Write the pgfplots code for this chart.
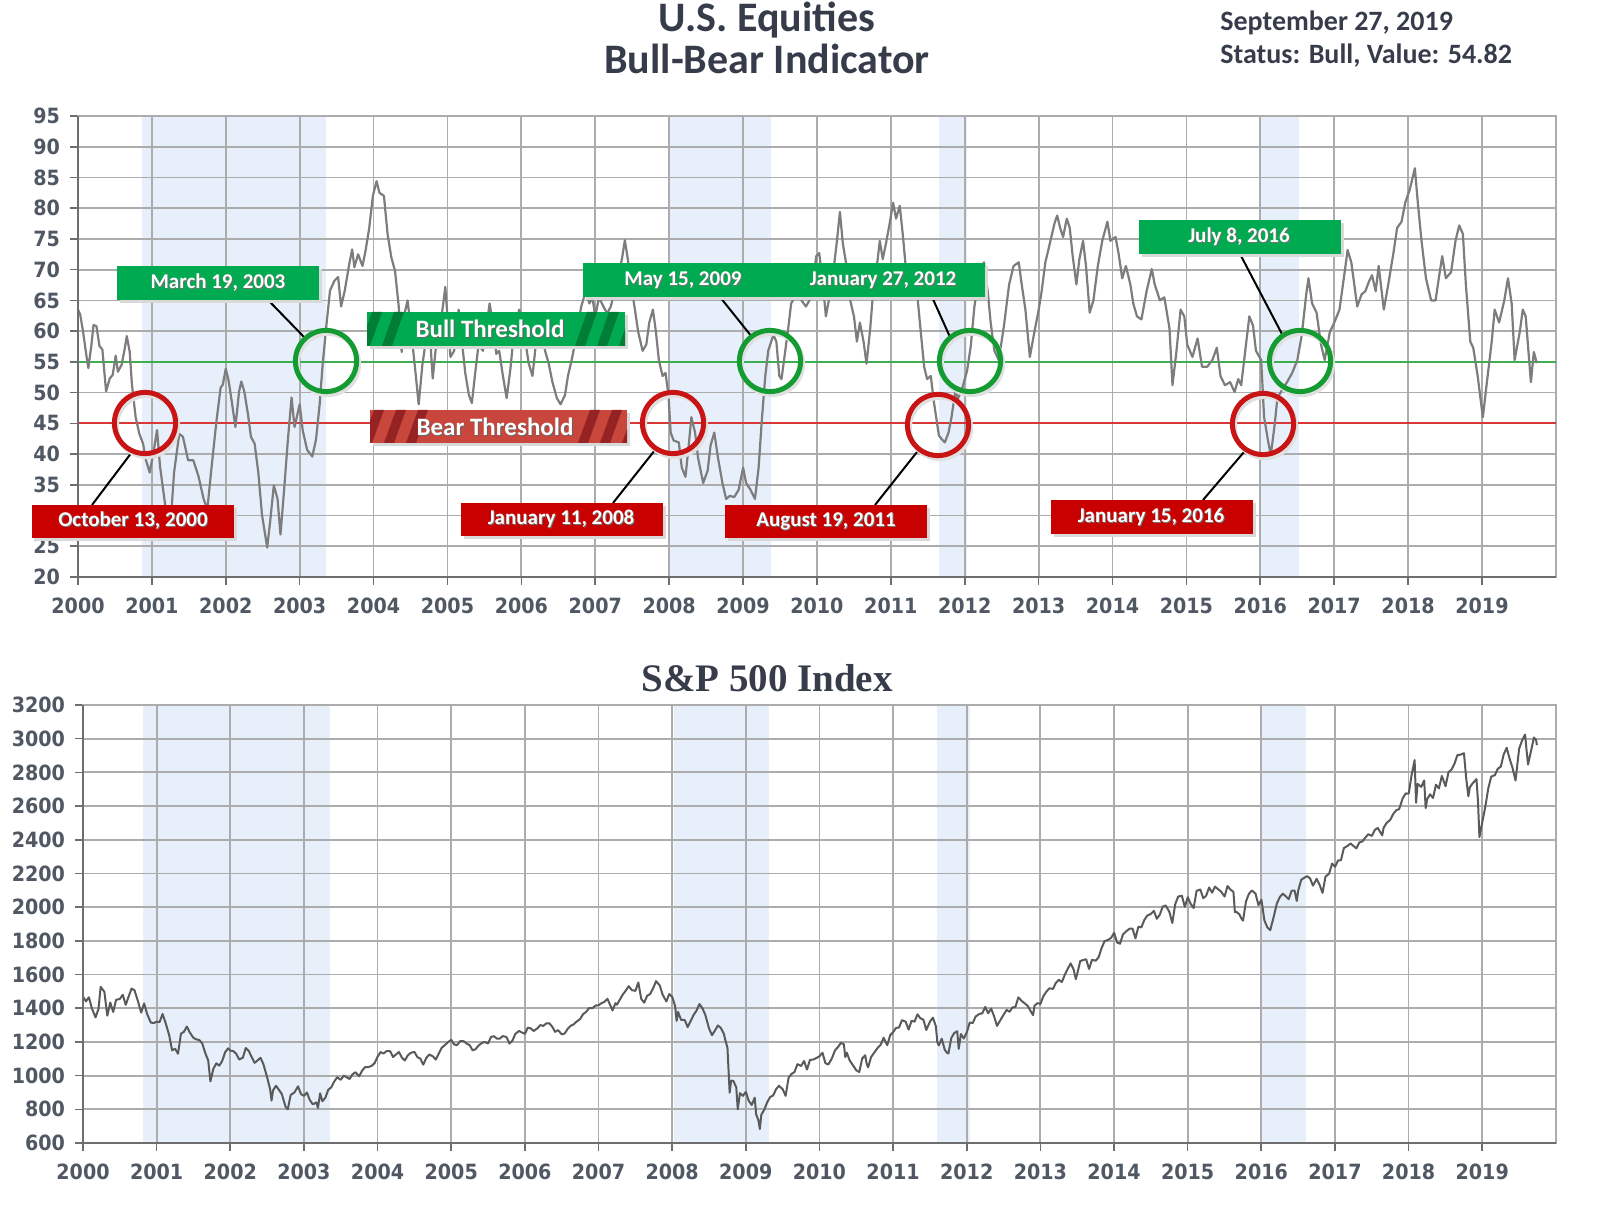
\documentclass[border=0pt]{standalone}
\usepackage{fontspec}
\setmainfont{DejaVu Sans}
\newfontfamily\tickfont{DejaVu Sans}[FakeStretch=0.91]
\newfontfamily\carlito{Carlito}
\newfontfamily\spfont{Liberation Serif}
\usepackage{pgfplots}
\usepackage{pgfplotstable}
\pgfplotsset{compat=1.18}
\definecolor{gridc}{RGB}{172,172,172}
\definecolor{shadec}{RGB}{230,239,250}
\definecolor{linec}{RGB}{125,125,125}
\definecolor{spline}{RGB}{90,90,90}
\definecolor{bullline}{RGB}{60,175,80}
\definecolor{bearline}{RGB}{215,55,55}
\definecolor{boxgreen}{RGB}{0,170,80}
\definecolor{boxred}{RGB}{200,0,0}
\definecolor{bulldark}{RGB}{0,125,55}
\definecolor{bearbase}{RGB}{200,70,60}
\definecolor{beardark}{RGB}{150,35,35}
\definecolor{circgreen}{RGB}{20,155,50}
\definecolor{circred}{RGB}{200,20,20}
\definecolor{tickc}{RGB}{80,88,100}
\definecolor{titlec}{RGB}{55,60,75}
\definecolor{axisdark}{RGB}{110,110,110}

\pgfplotstableread{
x y
2000.00 63.5
2000.03 62.7
2000.07 59.8
2000.12 55.5
2000.14 54.0
2000.18 57.6
2000.21 61.0
2000.25 60.8
2000.29 57.6
2000.33 57.0
2000.38 50.2
2000.43 52.3
2000.47 52.9
2000.51 56.0
2000.54 53.4
2000.59 54.5
2000.63 57.0
2000.66 59.2
2000.70 56.6
2000.73 51.3
2000.78 46.0
2000.83 43.3
2000.88 41.7
2000.92 39.0
2000.97 37.0
2001.02 40.2
2001.07 43.9
2001.11 38.0
2001.18 31.7
2001.24 26.4
2001.30 37.0
2001.37 43.3
2001.42 42.8
2001.49 39.0
2001.56 39.0
2001.63 36.4
2001.70 32.7
2001.75 31.0
2001.80 37.0
2001.87 45.0
2001.93 50.8
2001.96 51.3
2002.00 53.9
2002.04 51.8
2002.08 48.6
2002.13 44.4
2002.18 50.2
2002.21 51.8
2002.25 50.2
2002.30 46.5
2002.34 42.8
2002.39 41.7
2002.44 37.0
2002.49 30.1
2002.56 24.8
2002.60 29.0
2002.65 34.9
2002.70 32.7
2002.74 26.9
2002.79 34.3
2002.84 42.3
2002.89 49.2
2002.93 44.4
2003.00 48.1
2003.04 43.9
2003.10 40.7
2003.17 39.6
2003.22 42.3
2003.27 48.1
2003.31 54.5
2003.36 60.8
2003.41 66.6
2003.47 68.2
2003.52 68.8
2003.56 64.0
2003.61 66.6
2003.67 70.9
2003.71 73.3
2003.74 70.4
2003.79 72.5
2003.85 70.6
2003.89 73.0
2003.94 76.7
2003.99 82.0
2004.04 84.4
2004.08 82.5
2004.14 82.0
2004.19 75.7
2004.24 72.0
2004.29 69.8
2004.34 64.0
2004.38 56.6
2004.42 62.9
2004.46 65.0
2004.51 59.8
2004.57 52.9
2004.61 48.1
2004.66 54.5
2004.71 58.7
2004.76 59.8
2004.80 52.3
2004.85 58.2
2004.91 61.4
2004.97 67.2
2005.04 55.8
2005.09 56.8
2005.15 63.5
2005.20 57.8
2005.24 53.2
2005.29 49.6
2005.33 48.3
2005.37 52.7
2005.42 57.8
2005.48 56.8
2005.54 61.9
2005.57 64.5
2005.62 60.9
2005.66 56.3
2005.70 56.8
2005.75 52.7
2005.80 49.1
2005.85 53.7
2005.90 59.9
2005.97 63.5
2006.01 61.9
2006.06 57.8
2006.10 54.7
2006.15 52.7
2006.19 57.3
2006.23 61.9
2006.28 59.9
2006.32 56.8
2006.37 54.7
2006.42 51.7
2006.48 49.1
2006.53 48.1
2006.59 49.6
2006.63 52.7
2006.68 55.3
2006.73 58.3
2006.77 61.4
2006.81 64.0
2006.87 66.5
2006.92 64.5
2006.96 65.5
2007.00 62.4
2007.05 65.5
2007.11 64.0
2007.16 62.9
2007.21 64.0
2007.27 67.0
2007.31 69.1
2007.36 71.7
2007.40 74.8
2007.44 71.7
2007.49 67.0
2007.53 64.0
2007.58 59.9
2007.64 56.8
2007.69 57.8
2007.73 61.4
2007.78 63.5
2007.82 59.9
2007.86 55.3
2007.91 52.7
2007.95 53.2
2007.99 49.6
2008.02 43.5
2008.06 42.2
2008.13 41.9
2008.17 37.8
2008.22 36.3
2008.26 40.9
2008.30 46.0
2008.35 43.5
2008.39 39.4
2008.46 35.3
2008.52 37.3
2008.56 41.4
2008.61 43.5
2008.66 39.4
2008.72 35.3
2008.77 32.7
2008.82 33.2
2008.88 33.0
2008.94 34.2
2009.00 37.8
2009.04 35.3
2009.10 34.2
2009.16 32.7
2009.21 37.8
2009.25 45.0
2009.30 52.7
2009.34 56.8
2009.41 59.4
2009.45 58.3
2009.49 52.7
2009.52 52.2
2009.61 60.4
2009.65 64.5
2009.72 66.0
2009.79 65.0
2009.85 64.0
2009.92 65.5
2009.99 72.2
2010.03 72.7
2010.08 67.6
2010.12 62.4
2010.16 65.0
2010.23 70.6
2010.27 74.7
2010.31 79.4
2010.35 74.2
2010.40 70.6
2010.44 65.5
2010.50 62.4
2010.54 58.3
2010.58 61.4
2010.63 58.3
2010.67 54.7
2010.72 60.4
2010.76 66.5
2010.81 70.6
2010.85 74.7
2010.89 71.7
2010.94 74.7
2010.98 77.3
2011.03 80.9
2011.07 78.3
2011.12 80.4
2011.16 75.8
2011.20 70.6
2011.25 67.6
2011.31 68.6
2011.36 65.5
2011.40 60.4
2011.45 54.2
2011.49 52.2
2011.54 52.7
2011.58 48.6
2011.65 43.0
2011.69 42.4
2011.73 41.9
2011.78 43.5
2011.82 46.0
2011.87 50.1
2011.91 49.1
2011.96 50.5
2012.03 53.5
2012.08 57.5
2012.13 64.0
2012.20 69.6
2012.26 71.2
2012.31 66.5
2012.35 61.4
2012.40 56.8
2012.46 55.3
2012.53 60.9
2012.60 67.6
2012.66 70.6
2012.73 71.2
2012.77 67.6
2012.82 63.5
2012.88 55.8
2012.95 60.4
2013.00 63.5
2013.04 66.5
2013.09 71.2
2013.13 73.2
2013.18 75.8
2013.22 77.8
2013.25 78.8
2013.29 76.8
2013.33 75.3
2013.38 78.3
2013.42 76.8
2013.46 72.2
2013.51 67.6
2013.55 71.7
2013.60 74.7
2013.64 70.6
2013.69 63.0
2013.74 65.0
2013.80 70.6
2013.86 74.7
2013.93 77.8
2013.97 74.7
2014.04 75.3
2014.08 72.7
2014.13 68.6
2014.18 70.6
2014.24 67.6
2014.28 64.5
2014.33 62.4
2014.39 61.9
2014.46 66.5
2014.53 70.1
2014.57 67.6
2014.64 65.0
2014.70 65.5
2014.77 60.4
2014.81 51.2
2014.86 56.3
2014.92 63.5
2014.97 62.4
2015.01 57.8
2015.08 55.8
2015.15 58.8
2015.21 54.2
2015.28 54.2
2015.35 55.3
2015.41 57.3
2015.46 52.7
2015.52 51.2
2015.59 51.7
2015.65 50.1
2015.70 52.2
2015.74 51.2
2015.79 56.3
2015.85 62.4
2015.90 60.9
2015.94 56.8
2016.01 55.3
2016.05 46.0
2016.10 42.4
2016.14 39.8
2016.19 44.5
2016.23 49.1
2016.30 50.6
2016.36 51.7
2016.43 53.2
2016.50 55.3
2016.56 59.4
2016.62 66.0
2016.65 68.6
2016.70 64.5
2016.76 63.0
2016.82 57.8
2016.87 55.3
2016.94 59.9
2017.00 61.4
2017.07 63.5
2017.14 69.6
2017.18 73.2
2017.23 71.2
2017.27 67.6
2017.31 64.0
2017.37 66.0
2017.42 66.5
2017.47 68.1
2017.51 69.1
2017.56 66.5
2017.60 70.6
2017.67 63.5
2017.73 67.6
2017.80 72.7
2017.85 76.8
2017.91 77.8
2017.96 80.9
2018.02 83.0
2018.09 86.5
2018.13 80.9
2018.18 74.7
2018.24 68.6
2018.31 65.0
2018.37 65.0
2018.42 69.1
2018.46 72.2
2018.51 68.6
2018.58 69.6
2018.64 74.7
2018.69 77.2
2018.74 75.8
2018.78 67.6
2018.84 58.3
2018.88 57.3
2018.94 52.7
2019.01 46.0
2019.06 51.2
2019.13 58.3
2019.17 63.5
2019.23 61.4
2019.30 65.0
2019.35 68.6
2019.40 64.5
2019.44 55.3
2019.51 59.9
2019.55 63.5
2019.59 62.4
2019.66 51.7
2019.70 56.6
2019.74 54.8
}\bbdata

\pgfplotstableread{
x y
2000.00 1469
2000.04 1441
2000.08 1465
2000.12 1400
2000.17 1346
2000.21 1395
2000.24 1527
2000.29 1498
2000.33 1356
2000.37 1434
2000.41 1378
2000.45 1450
2000.50 1455
2000.54 1480
2000.58 1420
2000.62 1470
2000.66 1517
2000.70 1506
2000.75 1436
2000.79 1374
2000.83 1429
2000.87 1367
2000.92 1315
2000.96 1312
2001.00 1320
2001.04 1318
2001.08 1366
2001.12 1315
2001.17 1240
2001.21 1150
2001.25 1160
2001.29 1130
2001.33 1249
2001.37 1260
2001.41 1291
2001.45 1256
2001.50 1224
2001.54 1215
2001.58 1211
2001.62 1190
2001.66 1134
2001.70 1090
2001.73 966
2001.77 1040
2001.81 1073
2001.85 1059
2001.89 1087
2001.93 1139
2001.97 1162
2002.00 1148
2002.04 1146
2002.08 1130
2002.12 1096
2002.17 1106
2002.21 1164
2002.25 1147
2002.29 1111
2002.33 1076
2002.37 1090
2002.41 1106
2002.45 1067
2002.50 990
2002.54 921
2002.56 852
2002.58 912
2002.62 940
2002.66 916
2002.70 890
2002.75 815
2002.78 800
2002.82 885
2002.87 900
2002.92 936
2002.96 890
2003.00 880
2003.04 900
2003.08 855
2003.12 830
2003.17 841
2003.19 808
2003.22 895
2003.25 848
2003.29 868
2003.33 916
2003.37 930
2003.41 964
2003.45 990
2003.50 975
2003.54 1000
2003.58 990
2003.62 980
2003.66 1008
2003.70 1020
2003.75 996
2003.79 1030
2003.83 1050
2003.87 1050
2003.92 1058
2003.96 1075
2004.00 1112
2004.04 1140
2004.08 1131
2004.12 1145
2004.17 1145
2004.21 1110
2004.25 1126
2004.29 1140
2004.33 1107
2004.37 1090
2004.41 1120
2004.45 1135
2004.50 1141
2004.54 1110
2004.58 1101
2004.62 1065
2004.66 1104
2004.70 1125
2004.75 1115
2004.79 1095
2004.83 1130
2004.87 1165
2004.92 1184
2004.96 1200
2005.00 1212
2005.04 1185
2005.08 1181
2005.12 1205
2005.17 1204
2005.21 1190
2005.25 1181
2005.29 1150
2005.33 1157
2005.37 1178
2005.41 1192
2005.45 1200
2005.50 1191
2005.54 1230
2005.58 1234
2005.62 1220
2005.66 1220
2005.70 1235
2005.75 1229
2005.79 1190
2005.83 1207
2005.87 1248
2005.92 1265
2005.96 1256
2006.00 1248
2006.04 1285
2006.08 1280
2006.12 1265
2006.17 1281
2006.21 1300
2006.25 1295
2006.29 1310
2006.33 1311
2006.37 1291
2006.41 1260
2006.45 1270
2006.50 1245
2006.54 1250
2006.58 1277
2006.62 1295
2006.66 1304
2006.70 1320
2006.75 1336
2006.79 1365
2006.83 1378
2006.87 1400
2006.92 1401
2006.96 1416
2007.00 1418
2007.04 1430
2007.08 1438
2007.12 1456
2007.17 1407
2007.19 1387
2007.23 1430
2007.25 1421
2007.29 1452
2007.33 1482
2007.37 1505
2007.41 1531
2007.45 1508
2007.50 1503
2007.54 1553
2007.58 1455
2007.62 1433
2007.66 1474
2007.70 1484
2007.75 1527
2007.78 1561
2007.83 1536
2007.87 1481
2007.92 1440
2007.96 1484
2008.00 1468
2008.04 1411
2008.06 1325
2008.08 1378
2008.12 1331
2008.17 1330
2008.21 1288
2008.25 1323
2008.29 1360
2008.33 1386
2008.37 1425
2008.41 1400
2008.45 1360
2008.50 1280
2008.54 1240
2008.58 1267
2008.62 1298
2008.66 1283
2008.70 1250
2008.72 1213
2008.75 1166
2008.78 899
2008.80 970
2008.83 969
2008.87 930
2008.89 800
2008.92 896
2008.96 880
2009.00 903
2009.04 850
2009.08 826
2009.12 869
2009.14 770
2009.17 735
2009.19 683
2009.21 768
2009.25 798
2009.29 842
2009.33 873
2009.37 882
2009.41 919
2009.45 940
2009.50 919
2009.54 880
2009.58 987
2009.62 1010
2009.66 1021
2009.70 1068
2009.75 1057
2009.79 1087
2009.83 1036
2009.87 1093
2009.92 1096
2009.96 1105
2010.00 1115
2010.04 1136
2010.08 1074
2010.12 1066
2010.17 1104
2010.21 1150
2010.25 1169
2010.29 1194
2010.33 1187
2010.35 1110
2010.37 1136
2010.41 1090
2010.45 1064
2010.50 1031
2010.54 1022
2010.58 1102
2010.62 1121
2010.64 1072
2010.66 1049
2010.70 1110
2010.75 1141
2010.79 1165
2010.83 1183
2010.87 1225
2010.92 1181
2010.96 1240
2011.00 1258
2011.04 1283
2011.08 1286
2011.12 1329
2011.17 1320
2011.21 1273
2011.25 1326
2011.29 1320
2011.33 1364
2011.37 1340
2011.41 1333
2011.45 1271
2011.50 1321
2011.54 1344
2011.58 1292
2011.60 1199
2011.62 1179
2011.66 1219
2011.70 1154
2011.73 1136
2011.75 1131
2011.79 1224
2011.83 1253
2011.87 1263
2011.89 1159
2011.92 1247
2011.96 1220
2012.00 1258
2012.04 1315
2012.08 1312
2012.12 1351
2012.17 1366
2012.21 1370
2012.25 1408
2012.29 1370
2012.33 1398
2012.37 1353
2012.41 1295
2012.45 1325
2012.50 1362
2012.54 1390
2012.58 1379
2012.62 1405
2012.66 1407
2012.70 1465
2012.75 1441
2012.79 1428
2012.83 1412
2012.87 1380
2012.90 1359
2012.92 1416
2012.96 1430
2013.00 1426
2013.04 1472
2013.08 1498
2013.12 1518
2013.17 1515
2013.21 1551
2013.25 1569
2013.29 1555
2013.33 1598
2013.37 1634
2013.41 1666
2013.45 1630
2013.48 1573
2013.50 1606
2013.54 1680
2013.58 1686
2013.62 1691
2013.66 1633
2013.70 1688
2013.75 1682
2013.79 1703
2013.83 1757
2013.87 1798
2013.92 1806
2013.96 1818
2014.00 1848
2014.04 1790
2014.08 1783
2014.12 1838
2014.17 1859
2014.21 1872
2014.25 1872
2014.29 1815
2014.33 1884
2014.37 1880
2014.41 1924
2014.45 1950
2014.50 1960
2014.54 1978
2014.58 1931
2014.62 1955
2014.66 2003
2014.70 2010
2014.75 1972
2014.79 1906
2014.83 2018
2014.87 2063
2014.92 2068
2014.96 2002
2015.00 2059
2015.04 2019
2015.08 1995
2015.12 2097
2015.17 2105
2015.21 2053
2015.25 2068
2015.29 2117
2015.33 2086
2015.37 2122
2015.41 2107
2015.45 2094
2015.50 2063
2015.54 2126
2015.58 2104
2015.62 2091
2015.64 1971
2015.66 1972
2015.70 1958
2015.73 1931
2015.75 1920
2015.79 2033
2015.83 2079
2015.87 2099
2015.92 2080
2015.96 2012
2016.00 2044
2016.04 1922
2016.08 1880
2016.12 1864
2016.17 1948
2016.21 2022
2016.25 2060
2016.29 2080
2016.33 2065
2016.37 2047
2016.41 2097
2016.45 2099
2016.48 2037
2016.50 2099
2016.54 2162
2016.58 2174
2016.62 2184
2016.66 2171
2016.70 2128
2016.75 2168
2016.79 2133
2016.83 2085
2016.87 2181
2016.92 2199
2016.96 2259
2017.00 2239
2017.04 2277
2017.08 2279
2017.12 2351
2017.17 2364
2017.21 2378
2017.25 2363
2017.29 2349
2017.33 2384
2017.37 2390
2017.41 2412
2017.45 2433
2017.50 2423
2017.54 2459
2017.58 2470
2017.62 2441
2017.64 2426
2017.66 2472
2017.70 2500
2017.75 2519
2017.79 2553
2017.83 2575
2017.87 2582
2017.92 2648
2017.96 2675
2018.00 2674
2018.04 2786
2018.08 2873
2018.10 2620
2018.12 2732
2018.17 2714
2018.21 2752
2018.23 2588
2018.25 2641
2018.29 2670
2018.33 2648
2018.37 2727
2018.41 2705
2018.45 2779
2018.50 2718
2018.54 2801
2018.58 2816
2018.62 2850
2018.66 2902
2018.70 2905
2018.75 2914
2018.78 2767
2018.81 2658
2018.83 2712
2018.87 2736
2018.92 2760
2018.94 2633
2018.96 2416
2019.00 2507
2019.04 2596
2019.08 2704
2019.12 2775
2019.17 2784
2019.21 2822
2019.25 2834
2019.29 2907
2019.33 2946
2019.37 2881
2019.41 2826
2019.45 2752
2019.50 2942
2019.54 2990
2019.58 3025
2019.60 2932
2019.62 2847
2019.66 2926
2019.70 3007
2019.73 2992
2019.74 2962
}\spdata

\pgfplotsset{
  shadestyle/.style={
    scale only axis, xmin=2000, xmax=2020,
    axis lines=none, ticks=none, clip=true,
  },
  bbstyle/.style={
    scale only axis, clip=false,
    xmin=2000, xmax=2020,
    xtick={2000,...,2019},
    grid=major,
    grid style={gridc, line width=0.9pt},
    axis line style={gridc, line width=0.9pt},
    tick align=outside, tick pos=left,
    major tick length=4pt,
    tick style={axisdark, line width=0.8pt},
    tick label style={font=\tickfont\bfseries\fontsize{10.5pt}{12pt}\selectfont, text=tickc},
    yticklabel style={xshift=-1.5pt},
    xticklabel style={yshift=-3pt},
    /pgf/number format/1000 sep={},
    /pgf/number format/assume math mode=true,
  }
}

\begin{document}
\begin{tikzpicture}
\path[use as bounding box] (0,0) rectangle (800pt,605.5pt);

% ---------- top panel: shading ----------
\begin{axis}[shadestyle,
  at={(39pt,317pt)}, anchor=south west,
  width=739pt, height=230.5pt, ymin=20, ymax=95]
\addplot[draw=none, fill=shadec] coordinates {(2000.86,20) (2000.86,95) (2003.36,95) (2003.36,20)};
\addplot[draw=none, fill=shadec] coordinates {(2008.00,20) (2008.00,95) (2009.38,95) (2009.38,20)};
\addplot[draw=none, fill=shadec] coordinates {(2011.65,20) (2011.65,95) (2012.03,95) (2012.03,20)};
\addplot[draw=none, fill=shadec] coordinates {(2016.00,20) (2016.00,95) (2016.52,95) (2016.52,20)};
\end{axis}

% ---------- top panel ----------
\begin{axis}[bbstyle,
  at={(39pt,317pt)}, anchor=south west,
  width=739pt, height=230.5pt,
  ymin=20, ymax=95, ytick={20,25,...,95}]
\addplot[bullline, line width=1pt] coordinates {(2000,55) (2020,55)};
\addplot[bearline, line width=1pt] coordinates {(2000,45) (2020,45)};
\addplot[linec, line width=1.1pt, line join=round] table[x=x,y=y] {\bbdata};
\draw[axisdark, line width=1.2pt] (rel axis cs:0,1) -- (rel axis cs:0,0) -- (rel axis cs:1,0);
\end{axis}

% ---------- bottom panel: shading ----------
\begin{axis}[shadestyle,
  at={(41.5pt,34pt)}, anchor=south west,
  width=736.5pt, height=219pt, ymin=600, ymax=3200]
\addplot[draw=none, fill=shadec] coordinates {(2000.82,600) (2000.82,3200) (2003.35,3200) (2003.35,600)};
\addplot[draw=none, fill=shadec] coordinates {(2008.03,600) (2008.03,3200) (2009.32,3200) (2009.32,600)};
\addplot[draw=none, fill=shadec] coordinates {(2011.59,600) (2011.59,3200) (2012.04,3200) (2012.04,600)};
\addplot[draw=none, fill=shadec] coordinates {(2016.01,600) (2016.01,3200) (2016.60,3200) (2016.60,600)};
\end{axis}

% ---------- bottom panel ----------
\begin{axis}[bbstyle,
  at={(41.5pt,34pt)}, anchor=south west,
  width=736.5pt, height=219pt,
  ymin=600, ymax=3200, ytick={600,800,...,3200}]
\addplot[spline, line width=1pt, line join=round] table[x=x,y=y] {\spdata};
\draw[axisdark, line width=1.2pt] (rel axis cs:0,1) -- (rel axis cs:0,0) -- (rel axis cs:1,0);
\end{axis}

% ---------- annotations (pixel coordinates, y downward) ----------
\begin{scope}[x=0.5pt, y=-0.5pt, shift={(0pt,605.5pt)}]
\node[font=\carlito\bfseries\fontsize{21pt}{24pt}\selectfont, text=titlec] at (767,20) {U.S. Equities};
\node[font=\carlito\bfseries\fontsize{21pt}{24pt}\selectfont, text=titlec] at (767,59) {Bull-Bear Indicator};
\node[font=\carlito\bfseries\fontsize{14pt}{16pt}\selectfont, text=titlec, anchor=west, inner sep=0pt] at (1220,23) {September 27, 2019};
\node[font=\carlito\bfseries\fontsize{14pt}{16pt}\selectfont, text=titlec, anchor=west, inner sep=0pt] at (1220,56) {Status: Bull, Value: 54.82};
\node[font=\spfont\bfseries\fontsize{19.5pt}{22pt}\selectfont, text=titlec] at (767,678) {S\&P 500 Index};

\fill[black!15] (370,315) rectangle (628,349);
\fill[boxgreen] (367,312) rectangle (625,346);
\begin{scope}
\clip (367,312) rectangle (625,346);
\foreach \s in {0,1} {\fill[bulldark] ({360+\s*22},346) -- ++(10,0) -- ++(12,-34) -- ++(-10,0) -- cycle;}
\foreach \s in {0,1,2} {\fill[bulldark] ({575+\s*22},346) -- ++(10,0) -- ++(12,-34) -- ++(-10,0) -- cycle;}
\end{scope}
\node[font=\carlito\bfseries\fontsize{12.5pt}{14pt}\selectfont, text=black!60] at (491,330) {Bull Threshold};
\node[font=\carlito\bfseries\fontsize{12.5pt}{14pt}\selectfont, text=white] at (490,329) {Bull Threshold};

\fill[black!15] (373,413) rectangle (630,446);
\fill[bearbase] (370,410) rectangle (627,443);
\begin{scope}
\clip (370,410) rectangle (627,443);
\foreach \s in {0,1,2} {\fill[beardark] ({362+\s*22},443) -- ++(10,0) -- ++(12,-33) -- ++(-10,0) -- cycle;}
\foreach \s in {0,1,2} {\fill[beardark] ({578+\s*22},443) -- ++(10,0) -- ++(12,-33) -- ++(-10,0) -- cycle;}
\end{scope}
\node[font=\carlito\bfseries\fontsize{12.5pt}{14pt}\selectfont, text=black!60] at (496,428) {Bear Threshold};
\node[font=\carlito\bfseries\fontsize{12.5pt}{14pt}\selectfont, text=white] at (495,427) {Bear Threshold};

\draw[black, line width=1pt] (92,505) -- (132,452);
\draw[black, line width=1pt] (268,300) -- (305,338);
\draw[black, line width=1pt] (613,503) -- (655,450);
\draw[black, line width=1pt] (720,297) -- (752,337);
\draw[black, line width=1pt] (932,297) -- (950,337);
\draw[black, line width=1pt] (875,505) -- (917,452);
\draw[black, line width=1pt] (1203,500) -- (1244,452);
\draw[black, line width=1pt] (1240,254) -- (1283,336);

\foreach \cx/\cy in {145/423, 673/423, 938/425, 1263/424} {
  \draw[black!12, line width=2.5pt] (\cx+2,\cy+3) circle[radius=15.3pt];
  \draw[circred, line width=2.5pt] (\cx,\cy) circle[radius=15.3pt];
}
\foreach \cx/\cy in {326/361, 770/361, 970/361, 1300/361} {
  \draw[black!12, line width=2.5pt] (\cx+2,\cy+3) circle[radius=15.3pt];
  \draw[circgreen, line width=2.5pt] (\cx,\cy) circle[radius=15.3pt];
}

\foreach \xa/\ya/\xb/\yb/\col in {32/505/234/538/boxred, 117/266/319/300/boxgreen, 461/503/663/536/boxred, 583/263/985/297/boxgreen, 725/505/927/538/boxred, 1051/500/1253/534/boxred, 1139/220/1341/254/boxgreen} {
  \fill[black!15] (\xa+3,\ya+3) rectangle (\xb+3,\yb+3);
  \fill[\col] (\xa,\ya) rectangle (\xb,\yb);
}
\foreach \tx/\ty/\txt in {133/521/{October 13, 2000}, 218/283/{March 19, 2003}, 561/519/{January 11, 2008}, 683/280/{May 15, 2009}, 883/280/{January 27, 2012}, 826/521/{August 19, 2011}, 1151/517/{January 15, 2016}, 1239/237/{July 8, 2016}} {
  \node[font=\carlito\bfseries\fontsize{10.5pt}{12pt}\selectfont, text=black!55] at (\tx+1,\ty+1) {\txt};
  \node[font=\carlito\bfseries\fontsize{10.5pt}{12pt}\selectfont, text=white] at (\tx,\ty) {\txt};
}
\end{scope}
\end{tikzpicture}
\end{document}
